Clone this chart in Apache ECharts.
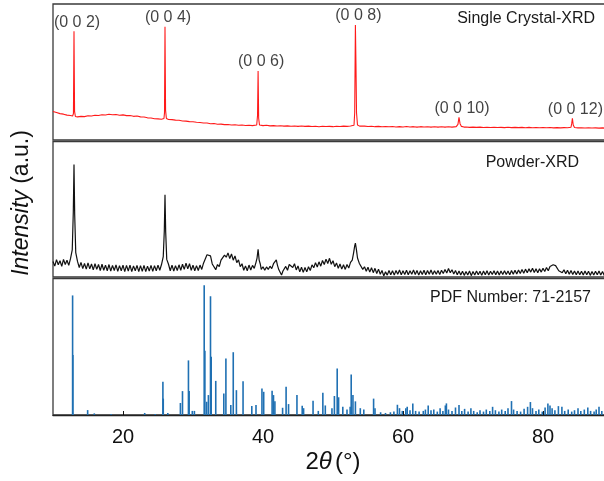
<!DOCTYPE html>
<html>
<head>
<meta charset="utf-8">
<script src="https://cdn.jsdelivr.net/npm/echarts@6/dist/echarts.min.js"></script>
<style>html,body{margin:0;padding:0;background:#fff;overflow:hidden}#c{width:620px;height:481px}</style>
</head>
<body>
<div id="c"></div>
<script>
// ---- DATA ----
var xTicks = [20, 40, 60, 80];

// Single crystal XRD [2theta, intensity]
var singleCrystal = [
[10.0,21.0],[10.5,20.2],[11.0,19.4],[11.5,19.0],[12.0,18.3],[12.5,18.0],[12.8,17.6],[12.92,19.5],[13.0,80],[13.08,21],[13.2,17.3],[13.5,17.0],
[14.0,17.4],[14.5,17.2],[15.0,17.8],[15.5,17.6],[16.0,18.2],[16.5,18.0],[17.0,18.6],[17.5,18.4],[18.0,18.9],[18.5,18.6],[19.0,18.8],[19.5,18.2],
[20.0,18.5],[20.5,17.9],[21.0,18.0],[21.5,17.4],[22.0,17.6],[22.5,17.0],[23.0,16.9],[23.5,16.3],[24.0,16.2],[24.5,15.6],[25.0,15.5],[25.5,15.2],
[25.85,15.8],[25.93,20],[26.0,83.3],[26.08,22],[26.2,15.8],[26.5,15.1],[27.0,15.0],[27.5,14.6],[28.0,14.5],[28.5,14.0],[29.0,13.9],[29.5,13.5],
[30.0,13.4],[30.5,13.0],[31.0,12.9],[31.5,12.5],[32.0,12.5],[32.5,12.0],[33.0,12.1],[33.5,11.6],[34.0,11.7],[34.5,11.3],[35.0,11.4],[35.5,11.0],
[36.0,11.2],[36.5,10.9],[37.0,11.0],[37.5,10.7],[38.0,10.9],[38.5,10.6],[39.1,11.0],[39.22,18],[39.3,50.7],[39.38,16],[39.5,11.0],
[40.0,10.6],[40.5,10.8],[41.0,10.4],[41.5,10.6],[42.0,10.3],[42.5,10.5],[43.0,10.2],[43.5,10.4],[44.0,10.1],[44.5,10.3],[45.0,10.0],[45.5,10.3],
[46.0,10.0],[46.5,10.2],[47.0,9.9],[47.5,10.1],[48.0,9.8],[48.5,10.1],[49.0,9.9],[49.5,10.0],[50.0,9.8],[50.5,10.1],[51.0,9.9],[51.5,10.2],
[52.0,10.0],[52.5,10.3],[53.0,10.8],[53.1,20],[53.2,84.6],[53.28,56],[53.36,20],[53.5,11.0],[53.8,10.2],[54.0,10.0],[54.5,10.2],[55.0,9.9],
[55.5,10.1],[56.0,9.8],[56.5,10.0],[57.0,9.7],[57.5,9.9],[58.0,9.7],[58.5,9.9],[59.0,9.6],[59.5,9.8],[60.0,9.6],[60.5,9.9],[61.0,9.6],
[61.5,9.8],[62.0,9.5],[62.5,9.8],[63.0,9.6],[63.5,9.7],[64.0,9.5],[64.5,9.8],[65.0,9.5],[65.5,9.7],[66.0,9.5],[66.5,9.7],[67.0,9.5],
[67.6,9.8],[67.85,11.5],[68.0,16.7],[68.15,12.0],[68.35,10.0],[68.7,9.5],[69.0,9.6],[69.5,9.3],[70.0,9.5],[70.5,9.3],[71.0,9.5],[71.5,9.2],
[72.0,9.4],[72.5,9.2],[73.0,9.4],[73.5,9.2],[74.0,9.3],[74.5,9.1],[75.0,9.4],[75.5,9.1],[76.0,9.3],[76.5,9.1],[77.0,9.3],[77.5,9.0],
[78.0,9.3],[78.5,9.0],[79.0,9.2],[79.5,9.0],[80.0,9.2],[80.5,9.0],[81.0,9.2],[81.5,8.9],[82.0,9.1],[82.5,8.9],[83.0,9.1],[83.5,9.0],
[84.0,9.4],[84.1,12.0],[84.2,16.0],[84.32,11.0],[84.5,9.2],[85.0,8.9],[85.5,9.0],[86.0,8.8],[86.5,9.0],[87.0,8.8],[87.5,8.9],[88.0,8.7],
[88.5,8.9],[89.0,8.7],[89.5,8.8],[90.0,8.6]
];

// Single crystal peak positions and labels
var peakPos = [13.0, 26.0, 39.3, 53.2, 68.0, 84.2];
var peakLabels = ['(0 0 2)', '(0 0 4)', '(0 0 6)', '(0 0 8)', '(0 0 10)', '(0 0 12)'];

// Powder XRD [2theta, intensity]
var powder = [
[10.0,11.5],[10.25,8.0],[10.5,12.8],[10.75,9.0],[11.0,12.0],[11.25,7.8],[11.5,13.0],[11.75,9.2],[12.0,12.4],[12.25,8.6],[12.5,13.5],[12.75,20],
[12.9,48],[13.0,83],[13.1,46],[13.25,18],[13.5,11.5],[13.75,7.0],[14.0,10.8],[14.25,6.2],[14.5,10.0],[14.75,5.8],[15.0,10.4],[15.25,6.0],
[15.5,9.6],[15.75,5.2],[16.0,9.8],[16.25,5.6],[16.5,9.2],[16.75,4.8],[17.0,9.4],[17.25,5.0],[17.5,8.8],[17.75,4.6],[18.0,9.2],[18.25,4.4],
[18.5,8.6],[18.75,4.8],[19.0,9.0],[19.25,4.2],[19.5,8.4],[19.75,4.6],[20.0,8.8],[20.25,4.0],[20.5,8.6],[20.75,4.4],[21.0,8.8],[21.25,4.0],
[21.5,8.2],[21.75,4.6],[22.0,8.6],[22.25,4.0],[22.5,8.4],[22.75,4.2],[23.0,8.6],[23.25,4.0],[23.5,8.0],[23.75,4.4],[24.0,8.6],[24.25,4.2],
[24.5,8.4],[24.75,4.6],[25.0,8.8],[25.25,5.0],[25.5,9.2],[25.75,15],[25.9,34],[26.0,60.7],[26.1,33],[26.25,13],[26.5,9.4],[26.75,4.6],
[27.0,8.8],[27.25,4.4],[27.5,8.4],[27.75,4.8],[28.0,9.0],[28.25,5.0],[28.5,9.4],[28.75,5.6],[29.0,10.2],[29.25,6.0],[29.5,9.8],[29.75,5.0],
[30.0,8.8],[30.25,4.6],[30.5,8.4],[30.75,4.8],[31.0,8.8],[31.25,5.6],[31.5,10.2],[31.75,10.0],[32.0,16.4],[32.25,15.6],[32.5,15.6],[32.75,9.6],
[33.0,10.0],[33.25,5.4],[33.5,9.2],[33.75,7.6],[34.0,12.4],[34.25,12.2],[34.5,16.2],[34.75,14.6],[35.0,17.8],[35.25,13.6],[35.5,17.0],[35.75,12.4],
[36.0,15.6],[36.25,10.6],[36.5,12.6],[36.75,7.6],[37.0,9.8],[37.25,5.0],[37.5,8.2],[37.75,4.6],[38.0,8.8],[38.25,5.2],[38.5,8.6],[38.75,6.4],
[39.0,10.8],[39.15,14],[39.3,20.5],[39.45,12.5],[39.6,9.8],[39.75,5.6],[40.0,7.6],[40.25,5.0],[40.5,7.4],[40.75,5.6],[41.0,8.0],[41.25,6.2],
[41.5,9.8],[41.75,9.6],[41.9,12.6],[42.05,9.0],[42.25,5.5],[42.5,3.0],[42.65,1.4],[42.85,4.4],[43.0,4.6],[43.25,7.8],[43.5,5.0],[43.75,9.2],
[44.0,10.2],[44.25,7.0],[44.5,9.8],[44.75,5.2],[45.0,8.2],[45.25,3.8],[45.5,7.2],[45.75,3.4],[46.0,7.0],[46.25,3.8],[46.5,7.6],[46.75,4.8],
[47.0,9.0],[47.25,6.8],[47.5,10.6],[47.75,7.4],[48.0,11.2],[48.25,8.0],[48.5,12.2],[48.75,9.2],[49.0,13.2],[49.25,10.0],[49.5,13.8],[49.75,9.4],
[50.0,12.0],[50.25,7.6],[50.5,10.4],[50.75,6.4],[51.0,9.6],[51.25,5.8],[51.5,9.0],[51.75,5.6],[52.0,9.2],[52.25,6.6],[52.5,10.8],[52.75,12.5],
[52.95,18],[53.1,23],[53.2,25],[53.35,20],[53.5,14],[53.75,10.2],[54.0,9.2],[54.25,5.6],[54.5,7.6],[54.75,4.2],[55.0,7.2],[55.25,3.6],
[55.5,6.8],[55.75,3.2],[56.0,6.4],[56.25,2.6],[56.5,5.8],[56.75,2.0],[57.0,4.8],[57.25,0.8],[57.5,3.8],[57.75,1.4],[58.0,4.8],[58.25,1.6],
[58.5,4.6],[58.75,1.4],[59.0,4.8],[59.25,2.0],[59.5,5.2],[59.75,1.6],[60.0,4.6],[60.25,1.8],[60.5,5.0],[60.75,1.6],[61.0,4.6],[61.25,2.0],
[61.5,5.2],[61.75,1.8],[62.0,4.8],[62.25,1.4],[62.5,4.6],[62.75,1.8],[63.0,5.0],[63.25,1.6],[63.5,4.8],[63.75,2.0],[64.0,5.2],[64.25,1.8],
[64.5,4.6],[64.75,2.0],[65.0,4.8],[65.25,1.8],[65.5,5.0],[65.75,2.6],[66.0,5.6],[66.25,3.0],[66.5,6.2],[66.75,3.2],[67.0,5.4],[67.25,2.2],
[67.5,4.8],[67.75,1.6],[68.0,4.4],[68.25,1.4],[68.5,4.2],[68.75,1.2],[69.0,4.0],[69.25,1.4],[69.5,4.4],[69.75,1.0],[70.0,4.0],[70.25,1.4],
[70.5,4.4],[70.75,1.6],[71.0,4.2],[71.25,1.2],[71.5,4.4],[71.75,1.6],[72.0,4.6],[72.25,1.4],[72.5,4.2],[72.75,1.8],[73.0,4.6],[73.25,1.6],
[73.5,4.4],[73.75,1.4],[74.0,4.4],[74.25,1.8],[74.5,4.6],[74.75,1.8],[75.0,4.4],[75.25,1.6],[75.5,4.8],[75.75,2.0],[76.0,5.0],[76.25,2.2],
[76.5,5.2],[76.75,2.6],[77.0,5.6],[77.25,2.8],[77.5,5.8],[77.75,3.2],[78.0,6.0],[78.25,3.6],[78.5,6.4],[78.75,3.4],[79.0,6.0],[79.25,3.2],
[79.5,6.0],[79.75,3.6],[80.0,6.4],[80.25,4.0],[80.5,7.0],[80.75,4.6],[81.0,7.8],[81.25,6.6],[81.45,9.0],[81.6,10.0],[81.8,8.4],[82.0,7.0],
[82.25,4.6],[82.5,6.0],[82.75,3.2],[83.0,5.4],[83.25,2.4],[83.5,5.0],[83.75,2.0],[84.0,4.8],[84.25,1.8],[84.5,4.4],[84.75,1.6],[85.0,4.4],
[85.25,1.6],[85.5,4.2],[85.75,1.4],[86.0,4.4],[86.25,1.6],[86.5,4.2],[86.75,1.2],[87.0,4.0],[87.25,1.4],[87.5,4.2],[87.75,1.6],[88.0,4.4],
[88.25,1.4],[88.5,4.0],[88.75,1.2],[89.0,4.0],[89.25,1.4],[89.5,4.2],[89.75,1.6],[90.0,4.0]
];

// PDF 71-2157 reference sticks [2theta, relative intensity]
var pdfSticks = [
[12.8,87.6],[12.84,44],[14.95,3.6],[15.9,1.2],[18.3,0.8],[23.1,1.5],[24.6,0.7],[25.7,24.3],[25.75,12],[26.4,1.5],
[28.2,8.8],[28.5,17.5],[29.35,40],[29.45,17.5],[29.9,3],[30.2,3],[31.6,95],[31.7,47],[31.95,9.7],[32.2,14.6],
[32.5,87],[32.6,42.6],[33.25,25],[34.4,15.8],[34.7,41.4],[35.4,7.3],[35.75,46],[36.2,18.2],[37.15,24.8],[38.4,6.6],
[39.0,7.3],[39.85,19.5],[40.1,17],[41.3,17.7],[41.5,14.6],[41.7,10],[42.8,5.3],[43.3,20.7],[43.65,8],[44.85,14.6],
[45.6,6.8],[45.8,5],[47.15,10.5],[47.9,3],[48.55,16.3],[48.9,7],[49.85,5],[50.2,13.9],[50.6,34],[50.8,13],
[51.4,6],[52.0,4],[52.45,6],[52.6,29.7],[52.85,14.6],[53.2,10],[53.9,5],[54.4,4],[55.8,12],[56.0,5],
[56.8,2],[57.5,1.5],[58.2,2],[58.7,2.5],[59.2,7.5],[59.5,5],[59.9,3],[60.4,5],[60.6,6],[61.0,3.5],
[61.4,8.5],[61.8,3],[62.3,2.5],[62.9,3],[63.2,4],[63.6,7],[64.0,3.5],[64.4,4],[64.9,2.5],[65.3,5],
[65.7,3],[66.05,7],[66.2,8.5],[66.5,4],[67.0,3],[67.5,5.5],[68.0,7.3],[68.4,3],[68.8,4.5],[69.3,2.5],
[69.7,5],[70.1,3],[70.6,2],[71.0,3.5],[71.5,2.5],[71.9,4],[72.4,3],[72.8,6],[73.2,3.5],[73.7,2.5],
[74.1,4],[74.6,3],[75.0,5],[75.5,10.2],[75.8,4],[76.3,3],[76.8,2.5],[77.3,4.5],[77.8,6],[78.2,9.5],
[78.5,5],[79.0,3],[79.4,4],[79.9,2.5],[80.3,5.5],[80.7,8.5],[81.0,7],[81.3,5],[81.7,3.5],[82.2,6.5],
[82.7,6],[83.1,3],[83.6,4],[84.1,2.5],[84.5,3.5],[85.0,5],[85.4,3],[85.9,4],[86.4,5.5],[86.8,3],
[87.3,2.5],[87.6,4],[88.0,6],[88.4,3],[88.9,4.5],[89.3,3],[89.7,2]
];

var panelTitles = ['Single Crystal-XRD', 'Powder-XRD', 'PDF Number: 71-2157'];

// ---- CHART ----
function peakHeight(pos) {
  var best = 0;
  singleCrystal.forEach(function (p) { if (Math.abs(p[0] - pos) < 0.3 && p[1] > best) best = p[1]; });
  return best;
}
var labelData = peakPos.map(function (p, i) { return { value: [p, peakHeight(p)], name: peakLabels[i] }; });

var FONT = '"Liberation Sans", Arial, sans-serif';
var frame = '#3a3a3a';
var gridsDef = [
  { left: 53, width: 560, top: 4, height: 136 },
  { left: 53, width: 560, top: 141.5, height: 135.5 },
  { left: 53, width: 560, top: 278.5, height: 136.5 }
];
var grids = gridsDef.map(function (g) {
  return Object.assign({ show: true, borderColor: frame, borderWidth: 1.3, backgroundColor: 'transparent' }, g);
});

function xa(i) {
  var last = i === 2;
  return {
    type: 'value', gridIndex: i, min: 10, max: 90,
    axisLine: { show: last, onZero: false, lineStyle: { color: '#222', width: 1.3 } },
    axisTick: last ? { show: true, inside: true, length: 4, customValues: xTicks, lineStyle: { color: '#111', width: 1 } } : { show: false },
    axisLabel: last ? { show: true, customValues: xTicks, fontFamily: FONT, fontSize: 20, color: '#111', margin: 12 } : { show: false },
    splitLine: { show: false },
    name: last ? '{n|2}{i|θ}{n|(°)}' : '',
    nameLocation: 'middle', nameGap: 35,
    nameTextStyle: {
      rich: {
        n: { fontFamily: FONT, fontSize: 24, color: '#111' },
        i: { fontFamily: FONT, fontSize: 24, fontStyle: 'italic', color: '#111', padding: [0, 3, 0, 0] }
      }
    }
  };
}
function ya(i) {
  return {
    type: 'value', gridIndex: i, min: 0, max: 100,
    axisLine: { show: false }, axisTick: { show: false }, axisLabel: { show: false }, splitLine: { show: false }
  };
}

var titleRight = [595, 579, 591];
var titleY = [19, 162.7, 297.7];

var graphics = panelTitles.map(function (t, i) {
  return {
    type: 'text', x: titleRight[i], y: titleY[i],
    style: { text: t, font: '16px ' + FONT, fill: '#1a1a1a', align: 'right', verticalAlign: 'middle' }
  };
});
graphics.push({
  type: 'text', x: 22, y: 203, rotation: Math.PI / 2,
  style: {
    text: '{i|Intensity}{n| (a.u.)}', align: 'center', verticalAlign: 'middle',
    rich: {
      n: { fontFamily: FONT, fontSize: 23, fill: '#111' },
      i: { fontFamily: FONT, fontSize: 23, fontStyle: 'italic', fill: '#111' }
    }
  }
});

var option = {
  backgroundColor: '#ffffff',
  animation: false,
  grid: grids,
  xAxis: [xa(0), xa(1), xa(2)],
  yAxis: [ya(0), ya(1), ya(2)],
  graphic: graphics,
  series: [
    { type: 'line', xAxisIndex: 0, yAxisIndex: 0, data: singleCrystal, showSymbol: false, symbol: 'none',
      lineStyle: { color: '#ff1a1a', width: 1.1 }, z: 3 },
    { type: 'scatter', xAxisIndex: 0, yAxisIndex: 0, data: labelData, symbolSize: 0, silent: true,
      label: { show: true, position: 'top', distance: 1, offset: [3, 0], formatter: function (p) { return p.name; },
        fontFamily: FONT, fontSize: 16, color: '#111' } },
    { type: 'line', xAxisIndex: 1, yAxisIndex: 1, data: powder, showSymbol: false, symbol: 'none',
      lineStyle: { color: '#111', width: 1.2 }, z: 3 },
    { type: 'bar', xAxisIndex: 2, yAxisIndex: 2, data: pdfSticks, barWidth: 1.6, barGap: '-100%',
      itemStyle: { color: '#1f70b3' }, z: 3 }
  ]
};

var chart = echarts.init(document.getElementById('c'), null, { renderer: 'canvas' });
chart.setOption(option);
</script>
</body>
</html>
